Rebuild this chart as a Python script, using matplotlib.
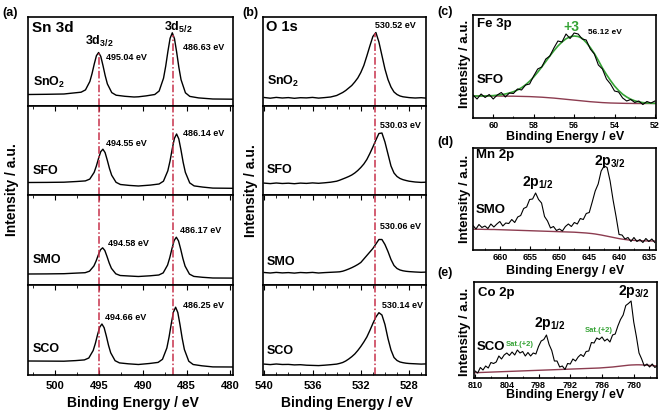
import numpy as np
import matplotlib
matplotlib.use('Agg')
import matplotlib.pyplot as plt
from matplotlib.ticker import MultipleLocator

plt.rcParams['font.family'] = 'Liberation Sans'
plt.rcParams['font.weight'] = 'bold'
plt.rcParams['mathtext.fontset'] = 'custom'
plt.rcParams['mathtext.rm'] = 'Liberation Sans:bold'
plt.rcParams['mathtext.bf'] = 'Liberation Sans:bold'
plt.rcParams['mathtext.it'] = 'Liberation Sans:bold'
plt.rcParams['axes.linewidth'] = 1.2

# ---------------- (a) Sn 3d ----------------
sn_samples = [r'$\mathbf{SnO_2}$', 'SFO', 'SMO', 'SCO']
sn_peak_labels = [('495.04 eV', '486.63 eV'), ('494.55 eV', '486.14 eV'),
                  ('494.58 eV', '486.17 eV'), ('494.66 eV', '486.25 eV')]
sn_ref_lines = [495.0, 486.55]

sno2_sn_e = [503.1, 501, 499, 498.04, 497.04, 496.54, 496.04, 495.79, 495.54, 495.29, 495.04,
             494.79, 494.54, 494.29, 494.04, 493.54, 493.04, 492.04, 491.0, 490.5, 489.63, 488.63,
             488.13, 487.63, 487.38, 487.13, 486.88, 486.63, 486.38, 486.13, 485.88, 485.63,
             485.13, 484.63, 483.63, 482.0, 479.7]
sno2_sn_i = [11.5, 11.7, 12, 12.9, 13.8, 16.1, 24.5, 32.4, 41.9, 50.3, 53.5, 49.5, 40.4, 30.4,
             22.1, 13.4, 10.8, 9.7, 9, 9.2, 10.1, 11.5, 15, 27.8, 39.9, 54.6, 67.7, 73.2, 67.3,
             53.8, 38.7, 26.3, 13.2, 9.6, 8.1, 7, 6.8]

sfo_sn_e = [503.1, 501, 499, 497.55, 496.55, 496.05, 495.55, 495.30, 495.05, 494.80, 494.55,
            494.30, 494.05, 493.80, 493.55, 493.05, 492.55, 491.55, 490.5, 489.14, 488.14,
            487.64, 487.14, 486.89, 486.64, 486.39, 486.14, 485.89, 485.64, 485.39, 485.14,
            484.64, 484.14, 483.14, 482.0, 479.7]
sfo_sn_i = [12.5, 12.6, 12.8, 13.5, 14.1, 15.9, 22.6, 28.9, 36.5, 43.3, 45.8, 42.4, 34.8, 26.5,
            19.8, 12.7, 10.5, 9.6, 9.0, 9.9, 11.0, 13.8, 24.2, 33.9, 45.9, 56.6, 61.0, 56.2,
            45.1, 32.7, 22.7, 12.1, 9.1, 7.9, 6.9, 6.7]

smo_sn_e = [503.1, 501, 499, 497.58, 496.58, 496.08, 495.58, 495.33, 495.08, 494.83, 494.58,
            494.33, 494.08, 493.83, 493.58, 493.08, 492.58, 491.58, 490.5, 489.17, 488.17,
            487.67, 487.17, 486.92, 486.67, 486.42, 486.17, 485.92, 485.67, 485.42, 485.17,
            484.67, 484.17, 483.17, 482.0, 479.7]
smo_sn_i = [11.0, 11.1, 11.3, 11.9, 12.3, 13.8, 19.0, 23.9, 29.9, 35.2, 37.2, 34.5, 28.5, 22.0,
            16.7, 11.2, 9.5, 9.0, 8.5, 9.2, 10.0, 12.1, 19.9, 27.3, 36.3, 44.4, 47.8, 44.1,
            35.8, 26.5, 18.9, 10.9, 8.6, 7.7, 7.0, 6.9]

sco_sn_e = [503.1, 501, 499, 497.66, 496.66, 496.16, 495.66, 495.41, 495.16, 494.91, 494.66,
            494.41, 494.16, 493.91, 493.66, 493.16, 492.66, 491.66, 490.5, 489.25, 488.25,
            487.75, 487.25, 487.0, 486.75, 486.5, 486.25, 486.0, 485.75, 485.5, 485.25,
            484.75, 484.25, 483.25, 482.0, 479.7]
sco_sn_i = [14.0, 13.9, 13.8, 14.4, 15.1, 17.0, 24.5, 31.6, 40.3, 47.9, 51.0, 47.3, 39.0, 29.7,
            22.2, 14.3, 12.1, 11.2, 10.5, 11.5, 12.6, 15.7, 27.0, 37.9, 51.1, 62.9, 67.8, 62.5,
            50.3, 36.7, 25.5, 13.8, 10.5, 9.2, 8.1, 8.0]

# ---------------- (b) O 1s ----------------
o_peak_labels = ['530.52 eV', '530.03 eV', '530.06 eV', '530.14 eV']
o_ref_line = 530.8
o_e = [540, 539.5, 539, 538.5, 538, 537.5, 537, 536.5, 536, 535.5, 535, 534.5, 534,
       533.75, 533.5, 533.25, 533, 532.75, 532.5, 532.25, 532, 531.75, 531.5, 531.25, 531,
       530.75, 530.5, 530.25, 530, 529.75, 529.5, 529.25, 529, 528.75, 528.5, 528.25, 528,
       527.5, 527, 526.6]
sno2_o = [8.5, 7.8, 8.6, 8.0, 8.4, 7.7, 8.3, 8.1, 8.6, 7.9, 8.4, 9.0, 10.5,
          12, 13.5, 15.5, 18, 20.5, 24, 28, 33.5, 40.5, 50, 60, 69.5, 73.5, 64, 50.5, 37,
          26.5, 19, 14, 11.5, 10, 9.2, 8.8, 8.4, 8.0, 8.3, 7.9]
sfo_o = [11.9, 11.4, 12.0, 11.5, 11.8, 11.3, 11.9, 11.6, 12.1, 11.7, 12.2, 12.8, 13.8,
         14.8, 16, 17.2, 18.5, 20, 22, 24.5, 27.5, 31, 35.5, 41.5, 48, 55, 61.5, 62, 53, 41,
         29, 22, 18.5, 16.5, 15.3, 14.5, 13.8, 13.0, 12.6, 12.8]
smo_o = [12.5, 12.0, 12.6, 12.1, 12.4, 11.9, 12.5, 12.2, 12.6, 12.0, 12.4, 12.7, 13.0,
         13.2, 13.8, 14.8, 16, 17.3, 18.8, 20.5, 22.5, 26, 29.5, 33, 36.5, 41, 45.5, 45.5,
         40.5, 33.5, 25.5, 19.5, 16.5, 15, 14.2, 13.7, 13.4, 13.0, 12.7, 12.9]
sco_o = [10.9, 10.4, 11.0, 10.5, 10.6, 10.1, 10.3, 9.8, 9.6, 9.4, 9.8, 10.3, 10.9,
         11.6, 12.5, 14, 16, 18.3, 21, 24.5, 28.5, 33, 38, 44.5, 51.5, 58, 62.3, 60, 50.5,
         36.5, 25, 17.5, 14.5, 13, 12.3, 11.8, 11.5, 11.2, 10.9, 11.1]

# ---------------- (c) Fe 3p ----------------
fe_e = np.round(np.arange(61.0, 51.99, -0.2), 1)
fe_data = [23, 19, 24, 20.5, 23.5, 19, 23, 25.5, 21, 25, 24.5, 29, 28, 33, 34, 42, 49, 51, 59,
           62, 70, 77, 76, 84, 79.5, 85, 84, 79, 78, 69, 64, 53, 49, 39, 34, 27, 26, 20, 17,
           18.5, 15.5, 17, 13.5, 16.5, 15, 17]
fe_fit = [22, 22, 22, 22, 22.2, 22.4, 22.8, 23.3, 24, 25, 26.3, 28, 30.3, 33.2, 36.8, 41, 45.8,
          51, 56.5, 62, 67.2, 72, 76, 79.2, 81.2, 82, 81.5, 79.6, 75.5, 70.5, 64.5, 57.5, 50,
          43.5, 37.5, 32, 27.5, 23.8, 21, 18.8, 17.2, 16.1, 15.4, 15, 14.8, 14.7]
fe_bg = [22, 22, 22, 22, 22, 22, 22, 21.9, 21.9, 21.8, 21.8, 21.7, 21.6, 21.5, 21.4, 21.2,
         21.0, 20.8, 20.5, 20.2, 19.9, 19.5, 19.1, 18.7, 18.3, 17.9, 17.5, 17.1, 16.7, 16.3,
         16.0, 15.7, 15.4, 15.2, 15.0, 14.9, 14.8, 14.7, 14.6, 14.6, 14.5, 14.5, 14.5, 14.5,
         14.5, 14.5]

# ---------------- (d) Mn 2p ----------------
mn_e = np.arange(664.5, 633.9, -0.5)
mn_data = [24.5, 21, 25.5, 22.5, 24, 21.5, 26, 23, 26, 28.5, 24, 27, 26.5, 30.5, 27.5, 33,
           34.5, 41.5, 43, 50.5, 51, 57, 50.5, 47, 33.5, 29, 22, 23.5, 19.5, 21, 19, 23.5, 26,
           23.5, 27.5, 26, 31.5, 30.5, 36.5, 37.5, 48, 59, 66, 79, 84, 82.5, 69, 50, 33.5,
           15.5, 15, 11, 12.5, 8.5, 12.5, 8.5, 10.5, 7.5, 11.5, 8.5, 11, 7.5]
mn_bg = [20.8, 20.8, 20.7, 20.7, 20.6, 20.6, 20.5, 20.5, 20.4, 20.3, 20.2, 20.1, 20.0, 19.9,
         19.8, 19.7, 19.6, 19.5, 19.4, 19.3, 19.2, 19.1, 19.0, 18.9, 18.8, 18.7, 18.6, 18.5,
         18.4, 18.3, 18.2, 18.1, 18.0, 17.9, 17.8, 17.6, 17.4, 17.2, 17.0, 16.7, 16.4, 16.0,
         15.5, 15.0, 14.4, 13.8, 13.2, 12.6, 12.0, 11.4, 10.9, 10.5, 10.1, 9.8, 9.6, 9.4,
         9.3, 9.2, 9.1, 9.0, 9.0, 9.0]

# ---------------- (e) Co 2p ----------------
co_e = np.arange(810.0, 775.4, -0.5)
co_data = [7, 5, 10.5, 8, 12, 10, 15.5, 14.5, 16, 22, 19, 23, 25, 22.5, 26, 23, 28, 25, 26.5,
           22, 25.5, 22, 25, 24, 31.5, 37, 38.5, 43, 33.5, 27.5, 17, 17, 11, 12, 8.5, 14.5, 14,
           19, 17, 21, 23.5, 21.5, 26.5, 27, 35.5, 35, 40, 38.5, 41, 37, 39, 36, 43, 44, 52,
           58.5, 63, 72.5, 74.5, 77, 56, 41.5, 25, 19, 12, 14, 11, 14, 10.5, 12.5]
co_bg = [5.3, 5.4, 5.5, 5.6, 5.7, 5.8, 5.9, 6.0, 6.1, 6.2, 6.3, 6.4, 6.5, 6.6, 6.7, 6.8, 6.9,
         7.0, 7.1, 7.2, 7.3, 7.4, 7.5, 7.6, 7.7, 7.8, 7.9, 8.0, 8.1, 8.2, 8.3, 8.4, 8.5, 8.6,
         8.7, 8.8, 8.9, 9.0, 9.1, 9.2, 9.3, 9.4, 9.5, 9.6, 9.7, 9.8, 9.9, 10.0, 10.2, 10.4,
         10.6, 10.8, 11.0, 11.3, 11.6, 11.9, 12.2, 12.5, 12.8, 13.0, 13.1, 13.2, 13.2, 13.1,
         13.0, 12.8, 12.6, 12.4, 12.2, 12.0]

W, H = 665, 413
RED = '#c8324b'
DASH = (0, (5, 1.5, 1, 1.5))
GREEN = '#35a335'
BGCOL = '#8c3c50'


def box(l, t, r, b):
    return [l / W, 1 - b / H, (r - l) / W, (b - t) / H]


def fpos(x, y):
    return x / W, 1 - y / H


def txt(x, y, s, size, **kw):
    kw.setdefault('va', 'center')
    fig.text(*fpos(x, y), s, fontsize=size, fontweight='bold', **kw)


fig = plt.figure(figsize=(6.65, 4.13), dpi=100)
rows = [17, 106, 195, 285, 375]

# panel (a)
sn_curves = [(sno2_sn_e, sno2_sn_i), (sfo_sn_e, sfo_sn_i), (smo_sn_e, smo_sn_i), (sco_sn_e, sco_sn_i)]
for k in range(4):
    ax = fig.add_axes(box(28, rows[k], 233, rows[k + 1]))
    e, inten = np.array(sn_curves[k][0]), np.array(sn_curves[k][1])
    ax.plot(e, inten, color='black', lw=1.0)
    ax.set_xlim(503.1, 479.7)
    ax.set_ylim(0, rows[k + 1] - rows[k])
    ax.set_yticks([])
    ax.xaxis.set_major_locator(MultipleLocator(5))
    ax.xaxis.set_minor_locator(MultipleLocator(2.5))
    ax.tick_params(axis='x', which='both', direction='in', top=(k > 0), bottom=(k == 3),
                   labelbottom=(k == 3), labelsize=8, pad=4)
    ax.tick_params(which='major', length=3.5)
    ax.tick_params(which='minor', length=2)
    for x0 in sn_ref_lines:
        if k == 0:
            top = np.interp(x0, e[::-1], inten[::-1])
            ax.vlines(x0, 0, top, color=RED, lw=1.1, linestyles=[DASH])
        else:
            ax.axvline(x0, color=RED, lw=1.1, linestyle=DASH)

# panel (b)
o_curves = [sno2_o, sfo_o, smo_o, sco_o]
for k in range(4):
    ax = fig.add_axes(box(263, rows[k], 426, rows[k + 1]))
    e, inten = np.array(o_e), np.array(o_curves[k])
    ax.plot(e, inten, color='black', lw=1.0)
    ax.set_xlim(540.1, 526.6)
    ax.set_ylim(0, rows[k + 1] - rows[k])
    ax.set_yticks([])
    ax.xaxis.set_major_locator(MultipleLocator(4))
    ax.xaxis.set_minor_locator(MultipleLocator(1))
    ax.tick_params(axis='x', which='both', direction='in', top=(k > 0), bottom=(k == 3),
                   labelbottom=(k == 3), labelsize=8, pad=4)
    ax.tick_params(which='major', length=3.5)
    ax.tick_params(which='minor', length=2)
    if k == 0:
        top = np.interp(o_ref_line, e[::-1], inten[::-1])
        ax.vlines(o_ref_line, 0, top, color=RED, lw=1.1, linestyles=[DASH])
    else:
        ax.axvline(o_ref_line, color=RED, lw=1.1, linestyle=DASH)


def small_panel(rect, xlim, major, minor, e, data, bg, fit=None):
    ax = fig.add_axes(rect)
    ax.plot(e, bg, color=BGCOL, lw=1.0)
    if fit is not None:
        ax.plot(e, fit, color=GREEN, lw=1.2)
    ax.plot(e, data, color='black', lw=0.8)
    ax.set_xlim(*xlim)
    ax.set_yticks([])
    ax.xaxis.set_major_locator(MultipleLocator(major))
    ax.xaxis.set_minor_locator(MultipleLocator(minor))
    ax.tick_params(axis='x', which='both', direction='in', labelsize=6.5, pad=2.5)
    ax.tick_params(which='major', length=3)
    ax.tick_params(which='minor', length=1.8)
    return ax


axc = small_panel(box(473, 15, 656, 118), (61.0, 51.95), 2, 1, fe_e, fe_data, fe_bg, fe_fit)
axc.set_ylim(0, 103)
axd = small_panel(box(473, 148, 656, 250), (664.5, 633.8), 5, 2.5, mn_e, mn_data, mn_bg)
axd.set_ylim(0, 102)
axe = small_panel(box(474, 282, 657, 378), (810.2, 775.6), 6, 3, co_e, co_data, co_bg)
axe.set_ylim(0, 96)

# ---- texts (a)
txt(2, 13, '(a)', 9)
txt(32, 28, 'Sn 3d', 11)
txt(99.5, 41, r'$\mathbf{3d_{3/2}}$', 9, ha='center')
txt(178, 27, r'$\mathbf{3d_{5/2}}$', 9, ha='center')
sn_lab_pos = [((106, 57), (183, 48)), ((106, 143), (183, 133)),
              ((108, 243), (180, 231)), ((105, 318), (183, 305))]
sn_name_y = [82, 171, 260, 349]
for k in range(4):
    for j in range(2):
        txt(*sn_lab_pos[k][j], sn_peak_labels[k][j], 6.5)
    txt(33, sn_name_y[k], sn_samples[k], 9)
txt(12, 190, 'Intensity / a.u.', 10, rotation=90, ha='center')
txt(133, 403, 'Binding Energy / eV', 10, ha='center')

# ---- texts (b)
txt(242, 13, '(b)', 9)
txt(266, 27, 'O 1s', 10.5)
o_lab_pos = [(375, 25), (380, 125), (380, 227), (382, 305)]
o_name_y = [81, 170, 262, 351]
for k in range(4):
    txt(*o_lab_pos[k], o_peak_labels[k], 6.5)
    txt(267, o_name_y[k], sn_samples[k], 9)
txt(251, 191, 'Intensity / a.u.', 10, rotation=90, ha='center')
txt(347, 403, 'Binding Energy / eV', 10, ha='center')

# ---- texts (c)
txt(437, 12, '(c)', 9)
txt(477, 24, 'Fe 3p', 9.5)
txt(571, 27, '+3', 10, ha='center', color=GREEN)
txt(588, 33, '56.12 eV', 6)
txt(477, 80, 'SFO', 9.5)
txt(465, 64, 'Intensity / a.u.', 9.5, rotation=90, ha='center')
txt(565, 137, 'Binding Energy / eV', 9, ha='center')

# ---- texts (d)
txt(437, 142, '(d)', 9)
txt(476, 155, 'Mn 2p', 9.5)
txt(538, 183, r'$\mathbf{2p_{1/2}}$', 10, ha='center')
txt(610, 162, r'$\mathbf{2p_{3/2}}$', 10, ha='center')
txt(476, 210, 'SMO', 9.5)
txt(465, 199, 'Intensity / a.u.', 9.5, rotation=90, ha='center')
txt(565, 271, 'Binding Energy / eV', 9, ha='center')

# ---- texts (e)
txt(437, 273, '(e)', 9)
txt(478, 293, 'Co 2p', 9.5)
txt(634, 292, r'$\mathbf{2p_{3/2}}$', 10, ha='center')
txt(550, 324, r'$\mathbf{2p_{1/2}}$', 10, ha='center')
txt(506, 345, 'Sat.(+2)', 5.5, color=GREEN)
txt(585, 330, 'Sat.(+2)', 5.5, color=GREEN)
txt(477, 347, 'SCO', 9.5)
txt(465, 332, 'Intensity / a.u.', 9.5, rotation=90, ha='center')
txt(565, 395, 'Binding Energy / eV', 9, ha='center')

fig.savefig('out.png', dpi=100)
